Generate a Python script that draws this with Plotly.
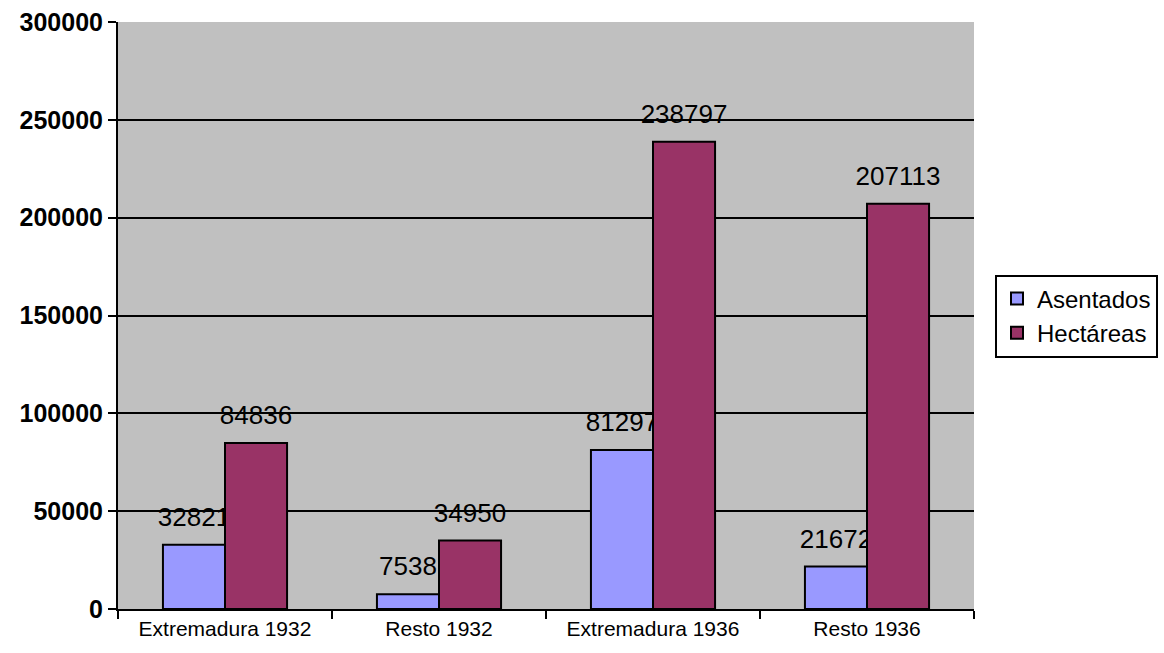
import plotly.graph_objects as go

categories = ["Extremadura 1932", "Resto 1932", "Extremadura 1936", "Resto 1936"]
asentados = [32821, 7538, 81297, 21672]
hectareas = [84836, 34950, 238797, 207113]

FONT = "Liberation Sans, Arial, sans-serif"
LABEL_LIFT = 5000  # style: vertical lift of the value labels above the bar tops

fig = go.Figure()

# value labels (drawn first so that later bars can cover them, as in the original)
for name, vals, grp in [("Asentados", asentados, "a"), ("Hectáreas", hectareas, "h")]:
    fig.add_trace(go.Bar(
        x=categories, y=vals, base=[LABEL_LIFT] * len(vals), offsetgroup=grp,
        text=[str(v) for v in vals], textposition="outside", cliponaxis=False,
        constraintext="none",
        textfont=dict(family=FONT, size=26, color="black"),
        marker=dict(color="rgba(0,0,0,0)", line=dict(width=0)),
        showlegend=False, hoverinfo="skip", name=name + " labels",
    ))

fig.add_trace(go.Bar(
    x=categories, y=asentados, name="Asentados", offsetgroup="a",
    marker=dict(color="#9999FF", line=dict(color="black", width=2)),
))
fig.add_trace(go.Bar(
    x=categories, y=hectareas, name="Hectáreas", offsetgroup="h",
    marker=dict(color="#993366", line=dict(color="black", width=2)),
))

fig.update_layout(
    width=1164, height=653,
    margin=dict(l=118, r=190, t=22, b=44, autoexpand=False),
    paper_bgcolor="white", plot_bgcolor="#C0C0C0",
    barmode="group", bargap=0.42, bargroupgap=0,
    uniformtext=dict(mode=False),
    font=dict(family=FONT, color="black"),
    legend=dict(
        xref="container", yref="container",
        x=995 / 1164, y=1 - 316 / 653, xanchor="left", yanchor="middle",
        bordercolor="black", borderwidth=2, bgcolor="white",
        font=dict(family=FONT, size=24, color="black"),
        itemsizing="constant", tracegroupgap=0,
    ),
    xaxis=dict(
        type="category", showline=True, linecolor="black", linewidth=2,
        ticks="outside", tickson="boundaries", ticklen=8, tickwidth=2, tickcolor="black",
        tickfont=dict(family=FONT, size=21, color="black"), showgrid=False,
        automargin=False,
    ),
    yaxis=dict(
        range=[0, 300000], dtick=50000, tickformat="d",
        showline=True, linecolor="black", linewidth=2,
        ticks="outside", ticklen=8, tickwidth=2, tickcolor="black",
        showgrid=True, gridcolor="black", gridwidth=2, zeroline=False,
        tickfont=dict(family=FONT, size=25, color="black", weight="bold"),
        automargin=False,
    ),
)

fig.write_html("out.html", config={"displayModeBar": False},
               post_script="document.body.style.margin='0';")
